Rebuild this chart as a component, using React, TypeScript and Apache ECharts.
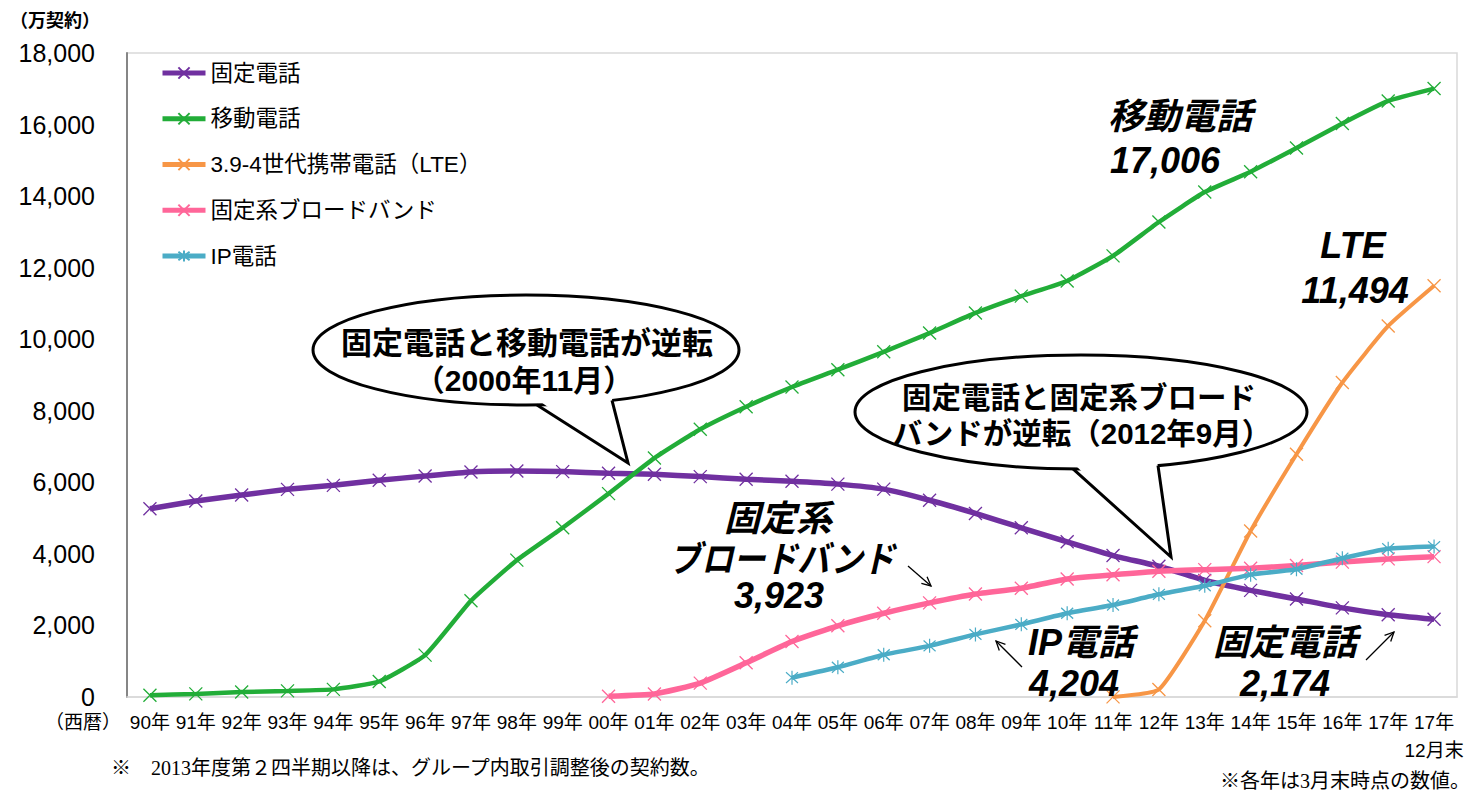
import React, { useEffect, useRef } from 'react';
import * as echarts from 'echarts';

const categories = [
  '90年', '91年', '92年', '93年', '94年', '95年', '96年', '97年', '98年', '99年',
  '00年', '01年', '02年', '03年', '04年', '05年', '06年', '07年', '08年', '09年',
  '10年', '11年', '12年', '13年', '14年', '15年', '16年', '17年', '17年\n12月末',
];

const seriesNames = ['固定電話', '移動電話', '3.9-4世代携帯電話（LTE）', '固定系ブロードバンド', 'IP電話'];
const seriesColors = ['#7030a0', '#22ad38', '#f79646', '#ff6699', '#4bacc6'];

const fixedPhone = [
  5263, 5477, 5645, 5804, 5916, 6057, 6177, 6290, 6317, 6300,
  6253, 6225, 6160, 6085, 6030, 5950, 5810, 5500, 5131, 4730,
  4337, 3954, 3654, 3260, 2980, 2740, 2490, 2300, 2174,
];
const mobilePhone = [
  49, 87, 138, 171, 213, 433, 1171, 2691, 3825, 4731,
  5685, 6678, 7482, 8112, 8665, 9148, 9648, 10172, 10735, 11205,
  11629, 12329, 13276, 14113, 14680, 15345, 16030, 16660, 17006,
];
const lte = [
  null, null, null, null, null, null, null, null, null, null,
  null, null, null, null, null, null, null, null, null, null,
  null, 3, 210, 2130, 4640, 6786, 8790, 10370, 11494,
];
const broadband = [
  null, null, null, null, null, null, null, null, null, null,
  22, 85, 387, 955, 1550, 1990, 2340, 2630, 2880, 3040,
  3300, 3415, 3515, 3560, 3600, 3675, 3770, 3860, 3923,
];
const ipPhone = [
  null, null, null, null, null, null, null, null, null, null,
  null, null, null, null, 540, 830, 1180, 1430, 1750, 2030,
  2340, 2570, 2870, 3110, 3420, 3570, 3880, 4145, 4204,
];

const JP = "'Liberation Sans', 'Noto Sans CJK JP', sans-serif";
const SERIF = "'Liberation Serif', 'Noto Sans CJK JP', serif";

const X_MARK = 'path://M0,0L10,10M10,0L0,10';
const STAR_MARK = 'path://M0,1.5L10,11.5M10,1.5L0,11.5M5,0L5,13';

function bubble(cx: number, cy: number, rx: number, ry: number, bxL: number, bxR: number, tip: number[]) {
  const by = (bx: number) => cy + ry * Math.sqrt(Math.max(0, 1 - ((bx - cx) / rx) ** 2));
  const L = [bxL, by(bxL)];
  const R = [bxR, by(bxR)];
  return [
    { type: 'ellipse', z: 100, shape: { cx, cy, rx, ry }, style: { fill: '#fff', stroke: '#000', lineWidth: 3 } },
    { type: 'polygon', z: 101, shape: { points: [[L[0] + 1, L[1] - 5], tip, [R[0] - 1, R[1] - 5]] }, style: { fill: '#fff', stroke: null } },
    { type: 'polyline', z: 102, shape: { points: [L, tip, R] }, style: { stroke: '#000', lineWidth: 3, fill: null } },
  ];
}

function arrow(x1: number, y1: number, x2: number, y2: number) {
  const ang = Math.atan2(y2 - y1, x2 - x1);
  const len = 10;
  const a1 = ang + Math.PI - 0.45;
  const a2 = ang + Math.PI + 0.45;
  return [
    { type: 'line', z: 110, shape: { x1, y1, x2, y2 }, style: { stroke: '#000', lineWidth: 1.3 } },
    {
      type: 'polyline', z: 110,
      shape: { points: [[x2 + len * Math.cos(a1), y2 + len * Math.sin(a1)], [x2, y2], [x2 + len * Math.cos(a2), y2 + len * Math.sin(a2)]] },
      style: { stroke: '#000', lineWidth: 1.3, fill: null },
    },
  ];
}

function label(text: string, x: number, y: number, opts: any = {}) {
  return {
    type: 'text', z: 120, x, y,
    scaleX: opts.scaleX ?? 1,
    style: {
      text,
      fontSize: opts.fontSize ?? 36,
      fontWeight: opts.fontWeight ?? 'bold',
      fontStyle: opts.fontStyle ?? 'italic',
      fontFamily: opts.fontFamily ?? JP,
      fill: '#000',
      align: opts.align ?? 'center',
      verticalAlign: 'middle',
    },
  };
}

export default function App() {
  const ref = useRef<HTMLDivElement>(null);
  useEffect(() => {
    if (!ref.current) return;
    const chart = echarts.init(ref.current, null, { renderer: 'svg' });
    const datasets = [fixedPhone, mobilePhone, lte, broadband, ipPhone];
    const widths = [5.5, 4.5, 4, 5.5, 4.5];
    const series = datasets.map((d, i) => ({
      name: seriesNames[i],
      type: 'line',
      data: d,
      smooth: 0.15,
      symbol: i === 4 ? STAR_MARK : X_MARK,
      symbolSize: i === 4 ? [12, 14] : 13,
      showSymbol: true,
      showAllSymbol: true,
      connectNulls: false,
      lineStyle: { color: seriesColors[i], width: widths[i] },
      itemStyle: { color: seriesColors[i], borderColor: seriesColors[i], borderWidth: 1.3 },
      emphasis: { disabled: true },
      z: 2 + i,
    }));

    const graphics: any[] = [
      label('（万契約）', 10, 21, { fontSize: 18, fontStyle: 'normal', align: 'left' }),
      label('（西暦）', 121, 722, { fontSize: 19, fontStyle: 'normal', fontWeight: 'normal', align: 'right' }),
      ...bubble(526, 350, 213, 55, 537, 612, [628, 463]),
      label('固定電話と移動電話が逆転', 527, 343, { fontSize: 31, fontStyle: 'normal' }),
      label('（2000年11月）', 524, 380, { fontSize: 30, fontStyle: 'normal' }),
      ...bubble(1081, 412, 226, 57, 1073, 1158, [1171, 557]),
      label('固定電話と固定系ブロード', 1079, 397, { fontSize: 29.5, fontStyle: 'normal' }),
      label('バンドが逆転（2012年9月）', 1082, 433, { fontSize: 29.5, fontStyle: 'normal' }),
      label('移動電話', 1108, 116, { align: 'left' }),
      label('17,006', 1110, 160, { align: 'left' }),
      label('LTE', 1353, 245),
      label('11,494', 1355, 290),
      label('固定系', 778, 518),
      label('ブロードバンド', 782, 559, { scaleX: 0.89 }),
      label('3,923', 779, 595),
      label('IP電話', 1028, 642, { align: 'left' }),
      label('4,204', 1074, 683),
      label('固定電話', 1285, 642),
      label('2,174', 1285, 683),
      ...arrow(908, 566, 931, 586),
      ...arrow(1022, 667, 996, 641),
      ...arrow(1366, 660, 1394, 632),
      label('※　2013年度第２四半期以降は、グループ内取引調整後の契約数。', 111, 768, { fontSize: 20, fontStyle: 'normal', fontWeight: 'normal', fontFamily: SERIF, align: 'left' }),
      label('※各年は3月末時点の数値。', 1470, 781, { fontSize: 20, fontStyle: 'normal', fontWeight: 'normal', fontFamily: SERIF, align: 'right' }),
    ];

    chart.setOption({
      animation: false,
      backgroundColor: '#ffffff',
      grid: { left: 127, right: 15, top: 53, bottom: 96, show: true, borderColor: '#d9d9d9', borderWidth: 1.5, containLabel: false },
      legend: {
        orient: 'vertical', left: 160, top: 60.5, padding: 0,
        itemWidth: 43, itemHeight: 14, itemGap: 20.75,
        data: seriesNames,
        lineStyle: { width: 5 },
        textStyle: { fontSize: 22.5, fontFamily: JP, color: '#000', lineHeight: 25 },
      },
      tooltip: { show: false },
      xAxis: {
        type: 'category', data: categories, boundaryGap: true,
        axisLine: { show: true, lineStyle: { color: '#d9d9d9', width: 1.5 } },
        axisTick: { show: false },
        axisLabel: { interval: 0, fontSize: 19, fontFamily: JP, color: '#000', margin: 11, lineHeight: 28 },
      },
      yAxis: {
        type: 'value', min: 0, max: 18000, interval: 2000,
        axisLine: { show: true, lineStyle: { color: '#868686', width: 2 } },
        axisTick: { show: false },
        splitLine: { show: false },
        axisLabel: {
          fontSize: 25, fontFamily: JP, color: '#000', margin: 32,
          formatter: (v: number) => String(v).replace(/\B(?=(\d{3})+(?!\d))/g, ','),
        },
      },
      series,
      graphic: { elements: graphics },
    });
    return () => chart.dispose();
  }, []);
  return <div ref={ref} style={{ width: 1472, height: 793, position: 'absolute', left: 0, top: 0 }} />;
}
